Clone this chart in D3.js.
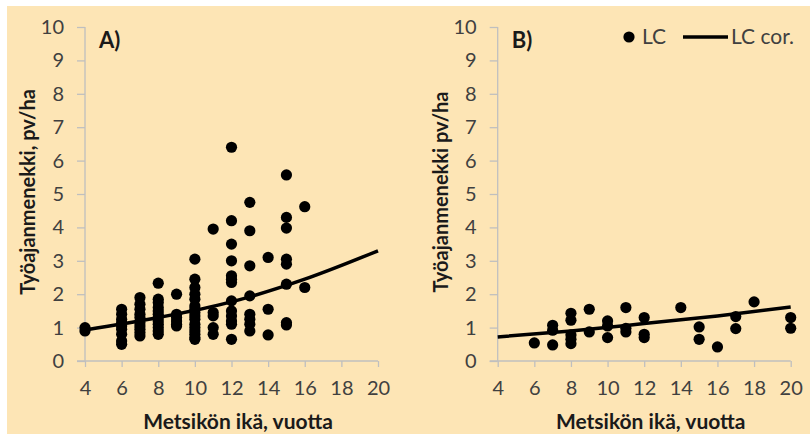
<!doctype html>
<html>
<head>
  <meta charset="utf-8">
  <script src="https://d3js.org/d3.v7.min.js"></script>
  <style>
    body { margin: 0; background: #fff; }
    text { font-family: Lato, "Open Sans", sans-serif; }
  </style>
</head>
<body>
  <script>
    // data: panel A (all stands)
    var agesA = [4, 4,
      6, 6, 6, 6, 6, 6, 6, 6, 6,
      7, 7, 7, 7, 7, 7, 7, 7, 7, 7,
      8, 8, 8, 8, 8, 8, 8, 8, 8, 8, 8, 8,
      9, 9, 9, 9, 9, 9,
      10, 10, 10, 10, 10, 10, 10, 10, 10, 10, 10, 10, 10, 10, 10, 10,
      11, 11, 11, 11, 11,
      12, 12, 12, 12, 12, 12, 12, 12, 12, 12, 12, 12, 12,
      13, 13, 13, 13, 13, 13, 13, 13,
      14, 14, 14,
      15, 15, 15, 15, 15, 15, 15, 15,
      16, 16];
    var valuesA = [0.9, 1.0,
      0.5, 0.6, 0.8, 0.95, 1.05, 1.15, 1.25, 1.4, 1.55,
      0.75, 0.85, 0.95, 1.05, 1.15, 1.3, 1.4, 1.55, 1.7, 1.9,
      2.33, 1.85, 1.75, 1.6, 1.5, 1.4, 1.3, 1.2, 1.1, 1.0, 0.9, 0.8,
      2.0, 1.4, 1.3, 1.2, 1.1, 1.05,
      3.05, 2.45, 2.2, 2.0, 1.85, 1.65, 1.55, 1.45, 1.35, 1.25, 1.1, 1.0, 0.9, 0.8, 0.7, 0.65,
      3.95, 1.45, 1.35, 1.0, 0.8,
      6.4, 4.2, 3.5, 3.0, 2.55, 2.45, 2.35, 1.8, 1.5, 1.35, 1.2, 1.1, 0.65,
      4.75, 3.9, 2.85, 1.95, 1.4, 1.25, 1.1, 0.9,
      3.1, 1.55, 0.78,
      5.57, 4.3, 3.98, 3.05, 2.9, 2.3, 1.15, 1.08,
      4.62, 2.2];
    var fitAgesA = [4, 8, 12, 16, 20];
    var fitValuesA = [0.93, 1.3, 1.77, 2.45, 3.3];

    // data: panel B (LC)
    var agesB = [6, 7, 7, 7, 8, 8, 8, 8, 8, 9, 9, 10, 10, 10, 11, 11, 11,
      12, 12, 12, 14, 15, 15, 16, 17, 17, 18, 20, 20];
    var valuesB = [0.54, 1.07, 0.92, 0.48, 1.43, 1.22, 0.78, 0.65, 0.52, 1.55, 0.87,
      1.2, 1.05, 0.7, 1.6, 0.98, 0.87, 1.3, 0.8, 0.7, 1.6, 1.02, 0.65, 0.42,
      1.33, 0.97, 1.77, 1.3, 0.98];
    var fitAgesB = [4, 8, 12, 16, 20];
    var fitValuesB = [0.72, 0.9, 1.12, 1.35, 1.62];

    var xTicks = [4, 6, 8, 10, 12, 14, 16, 18, 20];
    var yTicks = [0, 1, 2, 3, 4, 5, 6, 7, 8, 9, 10];

    var width = 810, height = 434;
    var axisColor = "#bfbfbf", labelColor = "#404040";

    var svg = d3.select("body").append("svg")
      .attr("width", width)
      .attr("height", height);

    // cream background
    svg.append("rect")
      .attr("x", 7).attr("y", 6)
      .attr("width", width - 7).attr("height", height - 6)
      .attr("fill", "#fde5b5");

    var y = d3.scaleLinear().domain([0, 10]).range([361, 27]);

    function drawPanel(x0, tag, yTitle, ages, values, fitAges, fitValues) {
      var x = d3.scaleLinear().domain([4, 20]).range([x0, x0 + 293]);

      var yAxis = svg.append("g")
        .attr("transform", "translate(" + x0 + ",0)")
        .call(d3.axisLeft(y).tickValues(yTicks).tickSize(8).tickPadding(13));
      var xAxis = svg.append("g")
        .attr("transform", "translate(0,361)")
        .call(d3.axisBottom(x).tickValues(xTicks).tickSize(6).tickPadding(14));

      [yAxis, xAxis].forEach(function (g) {
        g.select(".domain").attr("stroke", axisColor).attr("stroke-width", 1.3);
        g.selectAll(".tick line").attr("stroke", axisColor).attr("stroke-width", 1.3);
        g.selectAll(".tick text")
          .attr("fill", labelColor)
          .style("font-size", "20px")
          .style("font-family", "Lato, sans-serif");
      });
      yAxis.select(".domain").attr("d", "M0,27V361");
      xAxis.select(".domain").attr("d", "M" + (x0 - 8) + ",0H" + (x0 + 293));

      // points
      svg.append("g").selectAll("circle")
        .data(ages)
        .enter()
          .append("circle")
          .attr("cx", function (d) { return x(d); })
          .attr("cy", function (d, i) { return y(values[i]); })
          .attr("r", 5.6)
          .attr("fill", "#000");

      // fitted curve
      var line = d3.line()
        .x(function (d) { return x(d); })
        .y(function (d, i) { return y(fitValues[i]); })
        .curve(d3.curveMonotoneX);
      svg.append("path")
        .attr("d", line(fitAges))
        .attr("fill", "none")
        .attr("stroke", "#000")
        .attr("stroke-width", 3.5);

      // panel tag
      svg.append("text")
        .attr("x", x0 + 14).attr("y", 48)
        .attr("fill", "#1a1a1a")
        .style("font-size", "22px").style("font-weight", "bold")
        .text(tag);

      // axis titles
      svg.append("text")
        .attr("transform", "translate(" + (x0 - 50) + ",192) rotate(-90)")
        .attr("text-anchor", "middle")
        .attr("fill", "#1a1a1a")
        .style("font-size", "20px").style("font-weight", "bold")
        .text(yTitle);
      svg.append("text")
        .attr("x", x0 + 153).attr("y", 429)
        .attr("text-anchor", "middle")
        .attr("fill", "#1a1a1a")
        .style("font-size", "21px").style("font-weight", "bold")
        .text("Metsikön ikä, vuotta");
    }

    drawPanel(85, "A)", "Työajanmenekki, pv/ha", agesA, valuesA, fitAgesA, fitValuesA);
    drawPanel(497.7, "B)", "Työajanmenekki pv/ha", agesB, valuesB, fitAgesB, fitValuesB);

    // legend in panel B
    var legend = svg.append("g");
    legend.append("circle").attr("cx", 629).attr("cy", 37).attr("r", 5.6).attr("fill", "#000");
    legend.append("text").attr("x", 642).attr("y", 44)
      .attr("fill", labelColor).style("font-size", "21px").text("LC");
    legend.append("line")
      .attr("x1", 683).attr("x2", 728).attr("y1", 37).attr("y2", 37)
      .attr("stroke", "#000").attr("stroke-width", 3.5);
    legend.append("text").attr("x", 731).attr("y", 44)
      .attr("fill", labelColor).style("font-size", "21px").text("LC cor.");
  </script>
</body>
</html>
